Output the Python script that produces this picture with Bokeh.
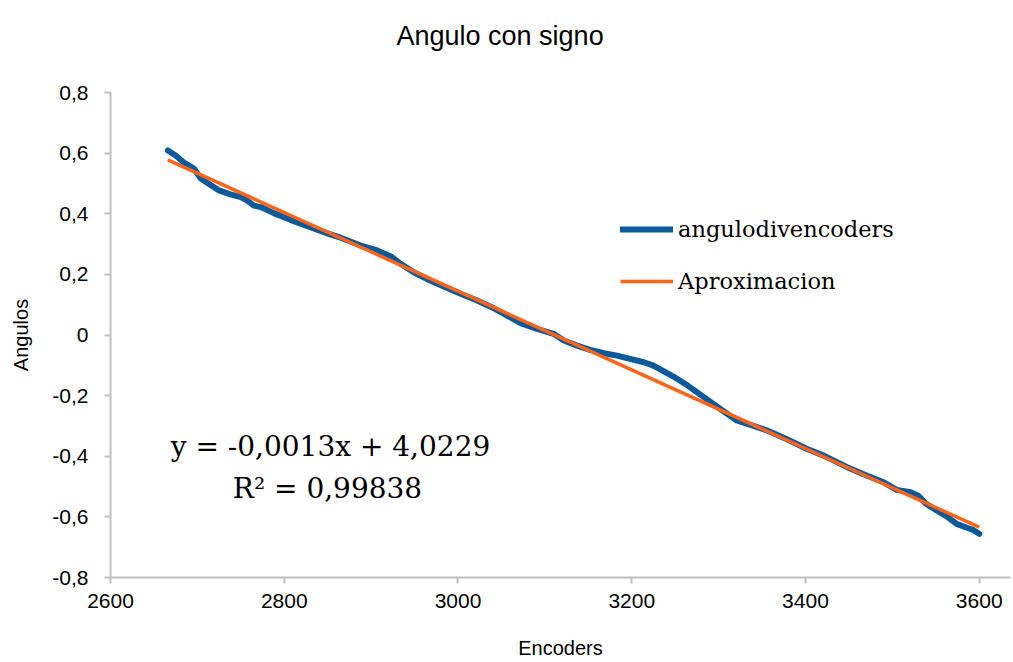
from bokeh.plotting import figure
from bokeh.models import FixedTicker, Label, Range1d, Legend, LegendItem
from bokeh.embed import file_html
from bokeh.resources import INLINE

# ---- data ----
encoders = [2666, 2675, 2684, 2696, 2704, 2713, 2725, 2738, 2750, 2757, 2765, 2773,
            2788, 2807, 2830, 2853, 2865, 2888, 2907, 2924, 2934, 2949, 2968, 2987,
            3003, 3022, 3040, 3053, 3072, 3091, 3110, 3122, 3137, 3152, 3168, 3183,
            3198, 3214, 3225, 3237, 3248, 3264, 3283, 3302, 3321, 3333, 3356, 3378,
            3402, 3421, 3448, 3471, 3490, 3505, 3521, 3530, 3538, 3551, 3563, 3574,
            3586, 3593, 3600]
angulos = [0.609, 0.592, 0.570, 0.549, 0.516, 0.499, 0.477, 0.464, 0.455, 0.444, 0.427, 0.422,
           0.402, 0.380, 0.356, 0.332, 0.321, 0.295, 0.279, 0.257, 0.235, 0.207, 0.180, 0.156,
           0.136, 0.114, 0.090, 0.070, 0.039, 0.020, 0.004, -0.018, -0.035, -0.049, -0.060, -0.068,
           -0.079, -0.090, -0.101, -0.120, -0.137, -0.166, -0.205, -0.244, -0.282, -0.293, -0.315, -0.343,
           -0.376, -0.398, -0.436, -0.464, -0.486, -0.511, -0.519, -0.530, -0.555, -0.579, -0.599, -0.623,
           -0.636, -0.643, -0.656]
trend_x = [2666, 3600]
trend_y = [0.578, -0.634]

x_ticks = [2600, 2800, 3000, 3200, 3400, 3600]
x_tick_labels = ["2600", "2800", "3000", "3200", "3400", "3600"]
y_ticks = [-0.8, -0.6, -0.4, -0.2, 0.0, 0.2, 0.4, 0.6, 0.8]
y_tick_labels = ["-0,8", "-0,6", "-0,4", "-0,2", "0", "0,2", "0,4", "0,6", "0,8"]

title_text = "Angulo con signo"
x_title = "Encoders"
y_title = "Angulos"
series_names = ["angulodivencoders", "Aproximacion"]
equation_lines = ["y = -0,0013x + 4,0229", "R\u00b2 = 0,99838"]

BLUE = "#0B5A9B"
ORANGE = "#FF6418"
GRAY = "#BFBFBF"
SANS = "Liberation Sans"
SERIF = "DejaVu Serif"

p = figure(width=1013, height=662, output_backend="svg", toolbar_location=None,
           x_range=Range1d(2600, 3636), y_range=Range1d(-0.8, 0.8),
           min_border_left=110, min_border_right=3, min_border_top=92, min_border_bottom=85)
p.outline_line_color = None
p.background_fill_color = "white"
p.border_fill_color = "white"

p.title.text = title_text
p.title.text_font = SANS
p.title.text_font_size = "27px"
p.title.text_font_style = "normal"
p.title.text_color = "black"
p.title.align = "left"
p.title.offset = 286
p.title.vertical_align = "top"
p.title.standoff = 0
p.title.padding = dict(left=0, right=0, top=0, bottom=40)

b = p.line(encoders, angulos, line_color=BLUE, line_width=6, line_cap="round", line_join="round")
o = p.line(trend_x, trend_y, line_color=ORANGE, line_width=3.5, line_cap="butt")

# axes
for ax in (p.xaxis[0], p.yaxis[0]):
    ax.axis_line_color = GRAY
    ax.axis_line_width = 2
    ax.major_tick_line_color = GRAY
    ax.major_tick_line_width = 2
    ax.major_tick_out = 6
    ax.major_tick_in = 0
    ax.minor_tick_line_color = None
    ax.major_label_text_font = SANS
    ax.major_label_text_font_size = "21px"
    ax.major_label_text_color = "black"
    ax.axis_label_text_font = SANS
    ax.axis_label_text_font_size = "20px"
    ax.axis_label_text_font_style = "normal"
    ax.axis_label_text_color = "black"

p.xaxis.ticker = FixedTicker(ticks=x_ticks)
p.xaxis.major_label_overrides = {t: l for t, l in zip(x_ticks, x_tick_labels)}
p.yaxis.ticker = FixedTicker(ticks=y_ticks)
p.yaxis.major_label_overrides = {t: l for t, l in zip(y_ticks, y_tick_labels)}
p.xaxis.axis_label = x_title
p.yaxis.axis_label = y_title
p.xaxis.major_label_standoff = 10
p.xaxis.axis_label_standoff = 26
p.yaxis.major_label_standoff = 16
p.yaxis.axis_label_standoff = 17

p.xgrid.grid_line_color = None
p.ygrid.ticker = FixedTicker(ticks=[y_ticks[-1]])
p.ygrid.grid_line_color = GRAY
p.ygrid.grid_line_width = 2

# equation
p.add_layout(Label(x=220, y=131, x_units="screen", y_units="screen", text=equation_lines[0],
                   text_font=SERIF, text_font_size="28px", text_color="black",
                   text_align="center", text_baseline="middle"))
p.add_layout(Label(x=217, y=89, x_units="screen", y_units="screen", text=equation_lines[1],
                   text_font=SERIF, text_font_size="28px", text_color="black",
                   text_align="center", text_baseline="middle"))

legend = Legend(items=[LegendItem(label=series_names[0], renderers=[b]),
                       LegendItem(label=series_names[1], renderers=[o])],
                location=(510, 283), orientation="vertical",
                glyph_width=53, glyph_height=26, label_height=26, label_standoff=5,
                spacing=26, padding=0, margin=0,
                label_text_font=SERIF, label_text_font_size="22.5px", label_text_color="black",
                border_line_color=None, background_fill_alpha=0)
p.add_layout(legend)

open("out.html", "w").write(file_html(p, INLINE))
